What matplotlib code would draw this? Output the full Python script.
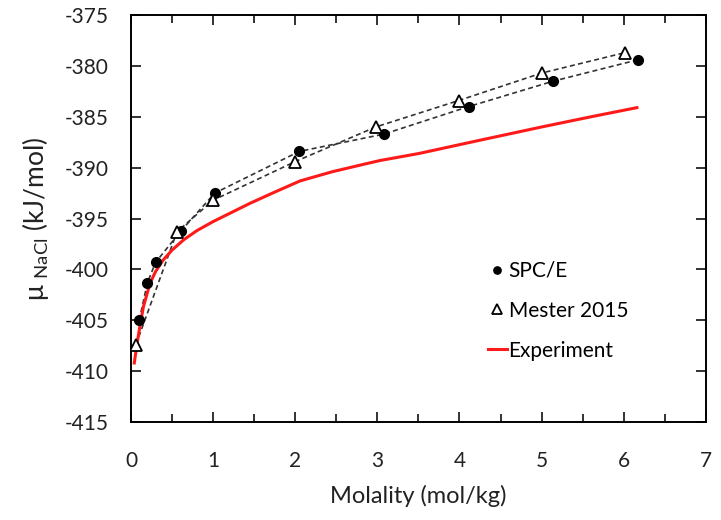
import matplotlib
matplotlib.use('Agg')
import matplotlib.pyplot as plt
from matplotlib.ticker import MultipleLocator

plt.rcParams['font.family'] = ['Lato', 'DejaVu Sans']
plt.rcParams['mathtext.fontset'] = 'custom'
plt.rcParams['mathtext.rm'] = 'Lato'
plt.rcParams['axes.unicode_minus'] = False

# SPC/E simulation points
spce_m = [0.1, 0.2, 0.3, 0.61, 1.02, 2.05, 3.08, 4.11, 5.14, 6.17]
spce_mu = [-405.0, -401.3, -399.3, -396.2, -392.5, -388.4, -386.7, -384.0, -381.5, -379.4]

# Mester 2015 points
mester_m = [0.06, 0.56, 1.0, 2.0, 2.98, 3.99, 5.0, 6.01]
mester_mu = [-407.4, -396.3, -393.2, -389.4, -386.0, -383.4, -380.7, -378.7]

# experimental curve
exp_m = [0.04, 0.07, 0.1, 0.15, 0.23, 0.3, 0.39, 0.5, 0.64, 0.8, 1.0, 1.2, 1.45,
         1.75, 2.06, 2.45, 2.87, 3.03, 3.51, 4.25, 5.0, 5.6, 6.16]
exp_mu = [-409.2, -407.5, -406.0, -403.7, -401.4, -400.2, -399.1, -398.1, -397.1,
          -396.2, -395.3, -394.5, -393.5, -392.4, -391.3, -390.4, -389.6, -389.3,
          -388.6, -387.3, -386.0, -385.0, -384.1]

fig = plt.figure(figsize=(7.21, 5.2), dpi=100)
ax = fig.add_axes([0.1817, 0.1885, 0.7973, 0.7825])

ax.plot(spce_m, spce_mu, '--', color='#333333', lw=1.2, dashes=(3, 2), zorder=2)
ax.plot(mester_m, mester_mu, '--', color='#333333', lw=1.2, dashes=(3, 2), zorder=2)
ax.plot(exp_m, exp_mu, '-', color='#ff1a1a', lw=2.2, label='Experiment', zorder=3)
ax.plot(spce_m, spce_mu, 'o', color='black', ms=7, ls='none', label='SPC/E', zorder=4)
ax.plot(mester_m, mester_mu, '^', mfc='white', mec='black', mew=1.3, ms=9,
        ls='none', label='Mester 2015', zorder=5)

ax.set_xlim(0, 7)
ax.set_ylim(-415, -375)
ax.xaxis.set_major_locator(MultipleLocator(1))
ax.xaxis.set_minor_locator(MultipleLocator(0.5))
ax.yaxis.set_major_locator(MultipleLocator(5))
ax.tick_params(which='both', direction='in', top=True, right=True, width=1.3,
               labelsize=15, colors='#222222')
ax.tick_params(which='major', length=7)
ax.tick_params(which='minor', length=6)
ax.tick_params(axis='x', pad=21)
ax.tick_params(axis='y', pad=16)
for s in ax.spines.values():
    s.set_linewidth(1.4)

ax.set_xlabel('Molality (mol/kg)', fontsize=17, labelpad=10, color='#222222')
ax.set_ylabel(r'μ $_{\mathregular{NaCl}}$ (kJ/mol)', fontsize=19, labelpad=10,
              color='#222222')

h, l = ax.get_legend_handles_labels()
order = [1, 2, 0]
ax.legend([h[i] for i in order], [l[i] for i in order], frameon=False,
          fontsize=15, handlelength=0.9, handletextpad=0.1, labelspacing=0.95,
          markerscale=0.75, loc='lower left', bbox_to_anchor=(0.588, 0.105))

fig.savefig('out.png', dpi=100)
